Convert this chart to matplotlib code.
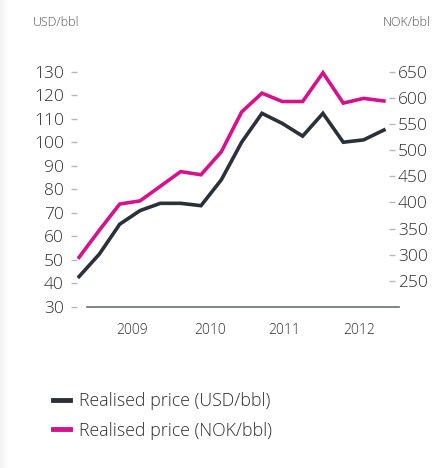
import numpy as np
import matplotlib
matplotlib.use("Agg")
import matplotlib.pyplot as plt
from matplotlib.lines import Line2D

plt.rcParams['font.family'] = ['Open Sans', 'DejaVu Sans']
plt.rcParams['font.weight'] = 'light'

# quarterly realised prices, 2009 Q1 .. 2012 Q4
quarters = list(range(16))
usd_price = [42.8, 52.4, 65.1, 70.9, 74.0, 74.0, 73.0, 84.0,
             100.0, 112.3, 108.0, 102.6, 112.3, 100.0, 101.0, 105.2]
nok_price = [295, 347, 397, 403, 431, 459, 453, 497,
             573, 609, 593, 593, 648, 590, 599, 594]
years = ['2009', '2010', '2011', '2012']
year_pos = [2.6, 6.45, 10.1, 13.8]
usd_ticks = [30, 40, 50, 60, 70, 80, 90, 100, 110, 120, 130]
nok_ticks = [250, 300, 350, 400, 450, 500, 550, 600, 650]

DARK = '#2b3039'
MAGENTA = '#d5128c'
TICK_GREY = '#b5b8bd'
TEXT = '#2e2e2e'

W, H = 434, 468
fig = plt.figure(figsize=(W / 100, H / 100), dpi=100)

# soft shadow on the left edge
shadow = fig.add_axes([0, 0, 9 / W, 1])
shadow.imshow(np.linspace(0, 1, 50).reshape(1, -1), cmap='Greys_r', vmin=-8, vmax=1,
              aspect='auto', extent=[0, 1, 0, 1])
shadow.axis('off')

ax = fig.add_axes([77 / W, 1 - 306.7 / H, (389 - 77) / W, (306.7 - 60) / H])
ax2 = ax.twinx()

ax.plot(quarters, usd_price, color=DARK, lw=2.6, solid_joinstyle='miter', zorder=3)
ax2.plot(quarters, nok_price, color=MAGENTA, lw=2.6, solid_joinstyle='miter', zorder=3)

ax.set_xlim(-0.1, 15.25)
ax.set_ylim(30, 135)
ax2.set_ylim(200.7, 672.4)

ax.set_yticks(usd_ticks)
ax2.set_yticks(nok_ticks)
ax.set_xticks(year_pos)
ax.set_xticklabels(years)

for a in (ax, ax2):
    for s in a.spines.values():
        s.set_visible(False)
ax.spines['bottom'].set_visible(True)
ax.spines['bottom'].set_color('#6b6e73')
ax.spines['bottom'].set_linewidth(1.2)
ax.spines['bottom'].set_bounds(0.38, 15.75)

ax.tick_params(axis='y', direction='out', length=4.5, width=1, color=TICK_GREY,
               pad=5, labelsize=12.5, labelcolor=TEXT)
ax2.tick_params(axis='y', direction='out', length=4.5, width=1, color=TICK_GREY,
                pad=2, labelsize=12.5, labelcolor=TEXT)
ax.tick_params(axis='x', length=0, pad=12, labelsize=10, labelcolor=TEXT)

fig.text(33 / W, 1 - 23 / H, 'USD/bbl', fontsize=9, color='#555555', va='center', ha='left')
fig.text(431 / W, 1 - 23 / H, 'NOK/bbl', fontsize=9, color='#555555', va='center', ha='right')

handles = [Line2D([], [], color=DARK, lw=3.5), Line2D([], [], color=MAGENTA, lw=3.5)]
fig.legend(handles, ['Realised price (USD/bbl)', 'Realised price (NOK/bbl)'],
           loc='upper left', bbox_to_anchor=(53 / W, 1 - 392 / H), frameon=False,
           fontsize=12.8, handlelength=0.95, handletextpad=0.5, labelspacing=0.65,
           labelcolor=TEXT, borderaxespad=0, borderpad=0)

fig.savefig('out.png', dpi=100)
